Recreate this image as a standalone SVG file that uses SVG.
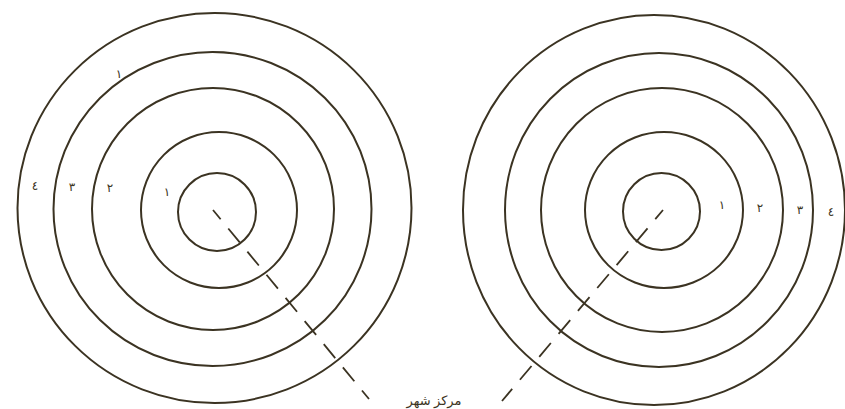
<svg xmlns="http://www.w3.org/2000/svg" width="845" height="409" viewBox="0 0 845 409">
<style>
.ring{fill:none;stroke:#3b3322;stroke-width:2}
.dash{fill:none;stroke:#3b3322;stroke-width:1.8;stroke-dasharray:18 12;stroke-dashoffset:6}
.lbl{font-family:"Noto Sans","DejaVu Sans",sans-serif;font-size:12px;fill:#3b3322;text-anchor:middle}
.cap{font-family:"Noto Sans","DejaVu Sans",sans-serif;font-size:13px;fill:#3b3322;text-anchor:middle}
</style>
<rect width="845" height="409" fill="#ffffff"/>
<g id="left-rings">
<ellipse class="ring" cx="214.5" cy="208" rx="197" ry="195"/>
<ellipse class="ring" cx="212.5" cy="209" rx="159" ry="157"/>
<ellipse class="ring" cx="213" cy="209" rx="121" ry="121"/>
<ellipse class="ring" cx="219" cy="210" rx="78" ry="78"/>
<ellipse class="ring" cx="217" cy="212" rx="39" ry="39"/>
<text class="lbl" x="35" y="190">٤</text>
<text class="lbl" x="72" y="191">٣</text>
<text class="lbl" x="110" y="192">٢</text>
<text class="lbl" x="167" y="196">١</text>
<text class="lbl" x="119" y="78">١</text>
</g>
<g id="right-rings">
<ellipse class="ring" cx="654" cy="210" rx="191" ry="195"/>
<ellipse class="ring" cx="659" cy="210" rx="154" ry="157"/>
<ellipse class="ring" cx="662" cy="210" rx="121" ry="122"/>
<ellipse class="ring" cx="664" cy="210" rx="79" ry="78"/>
<ellipse class="ring" cx="661.5" cy="211.5" rx="38.5" ry="38.5"/>
<text class="lbl" x="722" y="209">١</text>
<text class="lbl" x="760" y="212">٢</text>
<text class="lbl" x="800" y="214">٣</text>
<text class="lbl" x="831" y="216">٤</text>
</g>
<g id="connectors">
<line class="dash" x1="213" y1="210" x2="369" y2="399"/>
<line class="dash" x1="663" y1="210" x2="502" y2="401"/>
</g>
<g id="city-centre">
<text class="cap" x="434" y="405">مرکز شهر</text>
</g>
</svg>
